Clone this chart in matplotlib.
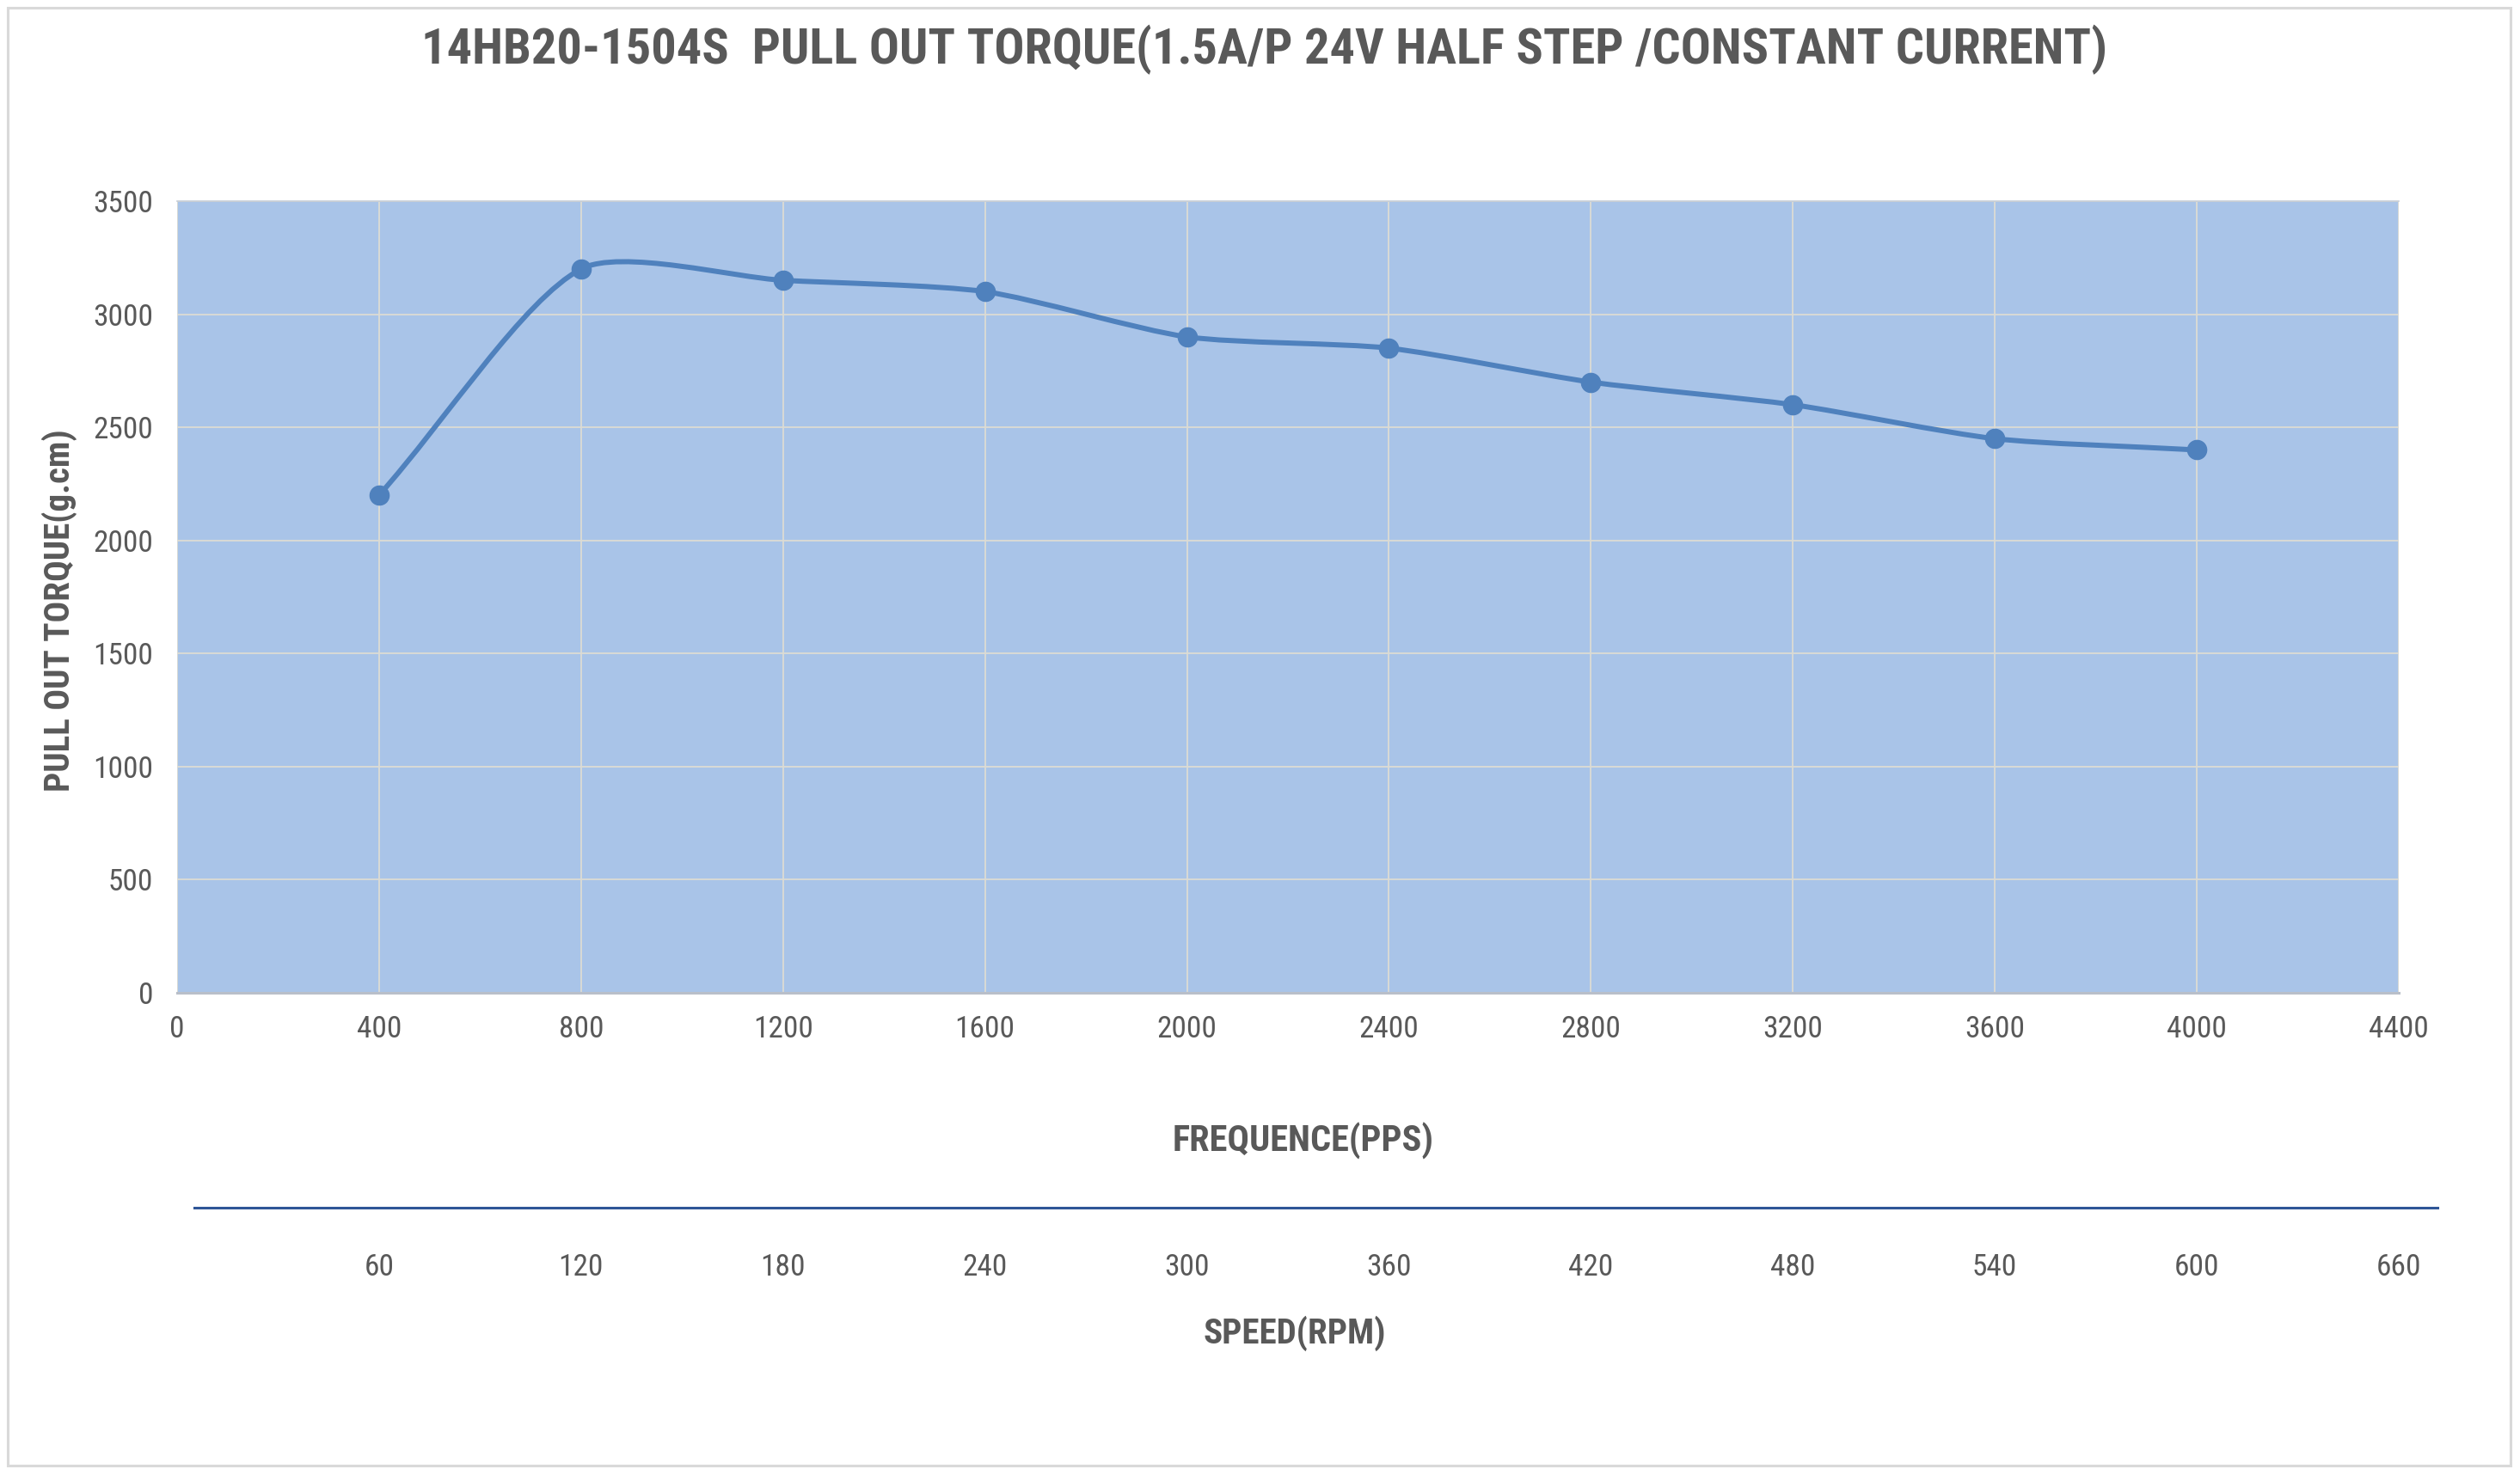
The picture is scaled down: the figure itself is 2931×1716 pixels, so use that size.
import numpy as np
import matplotlib
matplotlib.use("Agg")
import matplotlib.pyplot as plt
from matplotlib import font_manager as fm
from matplotlib.path import Path
from matplotlib.patches import PathPatch, Rectangle

# ---- data ----
freq_pps = [400, 800, 1200, 1600, 2000, 2400, 2800, 3200, 3600, 4000]
torque_gcm = [2200, 3200, 3150, 3100, 2900, 2850, 2700, 2600, 2450, 2400]
freq_ticks = [0, 400, 800, 1200, 1600, 2000, 2400, 2800, 3200, 3600, 4000, 4400]
torque_ticks = [0, 500, 1000, 1500, 2000, 2500, 3000, 3500]
speed_ticks = [60, 120, 180, 240, 300, 360, 420, 480, 540, 600, 660]
rpm_per_pps = 60 / 400  # half step, 400 steps per revolution

title = "14HB20-1504S  PULL OUT TORQUE(1.5A/P 24V HALF STEP /CONSTANT CURRENT)"
xlabel = "FREQUENCE(PPS)"
ylabel = "PULL OUT TORQUE(g.cm)"
speed_label = "SPEED(RPM)"

# ---- font: pick a narrow sans with bold available ----
prefs = ["Liberation Sans Narrow", "Arial Narrow", "Roboto Condensed", "PT Sans Narrow",
         "Archivo Narrow", "Liberation Sans"]
avail = {}
for f in fm.fontManager.ttflist:
    avail.setdefault(f.name, set()).add(f.weight if isinstance(f.weight, int) else 400)
chosen = "Liberation Sans"
for p in prefs:
    if p in avail and any(w >= 700 for w in avail[p]):
        chosen = p
        break
plt.rcParams['font.family'] = [chosen, 'Liberation Sans', 'DejaVu Sans']

# ---- styles ----
W, H = 2931, 1716
DPI = 100
text_color = "#595959"
plot_bg = "#A9C4E8"
line_color = "#4F81BD"
grid_color = "#DCDCD4"
smooth_tension = 0.72

fig = plt.figure(figsize=(W / DPI, H / DPI), dpi=DPI)
fig.patch.set_facecolor("white")

# figure border
fig.patches.append(Rectangle((9 / W, 1 - 1705 / H), (2920 - 9) / W, (1705 - 9) / H,
                             transform=fig.transFigure, fill=False,
                             edgecolor="#D9D9D9", linewidth=2.2))

ax_l, ax_r, ax_t, ax_b = 206 / W, 2790 / W, 234 / H, 1155 / H
ax = fig.add_axes([ax_l, 1 - ax_b, ax_r - ax_l, ax_b - ax_t])
ax.set_facecolor(plot_bg)
ax.set_xlim(freq_ticks[0], freq_ticks[-1])
ax.set_ylim(torque_ticks[0], torque_ticks[-1])
ax.set_xticks(freq_ticks)
ax.set_yticks(torque_ticks)
ax.grid(True, color=grid_color, linewidth=1.3)
ax.set_axisbelow(True)
for s in ["left", "right"]:
    ax.spines[s].set_visible(False)
ax.spines["bottom"].set_color("#B9BFC9")
ax.spines["bottom"].set_linewidth(2.2)
ax.spines["top"].set_color("#C5CCD6")
ax.spines["top"].set_linewidth(1.2)
ax.tick_params(axis="both", length=0, labelsize=25.5, labelcolor=text_color)
ax.tick_params(axis="x", pad=19)
ax.tick_params(axis="y", pad=20)

# smooth curve: cubic Bezier segments with chord-length-proportional tangents
# computed in screen space (similar to spreadsheet "smoothed line")
sx = (ax_r - ax_l) * W / (freq_ticks[-1] - freq_ticks[0])
sy = (ax_b - ax_t) * H / (torque_ticks[-1] - torque_ticks[0])
P = np.column_stack([np.array(freq_pps, float) * sx, np.array(torque_gcm, float) * sy])
n = len(P)
verts = [tuple(P[0])]
codes = [Path.MOVETO]
for i in range(n - 1):
    p0 = P[max(i - 1, 0)]
    p1 = P[i]
    p2 = P[i + 1]
    p3 = P[min(i + 2, n - 1)]
    d01 = np.linalg.norm(p1 - p0)
    d12 = np.linalg.norm(p2 - p1)
    d23 = np.linalg.norm(p3 - p2)
    if d01 > 0:
        c1 = p1 + (p2 - p0) * d12 / (d01 + d12) / 3.0 * smooth_tension
    else:
        c1 = p1 + (p2 - p1) / 3.0
    if d23 > 0:
        c2 = p2 - (p3 - p1) * d12 / (d12 + d23) / 3.0 * smooth_tension
    else:
        c2 = p2 - (p2 - p1) / 3.0
    verts += [tuple(c1), tuple(c2), tuple(p2)]
    codes += [Path.CURVE4] * 3
verts = [(vx / sx, vy / sy) for vx, vy in verts]
ax.add_patch(PathPatch(Path(verts, codes), facecolor="none", edgecolor=line_color,
                       linewidth=4.3, capstyle="round", joinstyle="round", zorder=3))
ax.plot(freq_pps, torque_gcm, linestyle="none", marker="o", markersize=16,
        color=line_color, zorder=4)

ax.set_xlabel(xlabel, fontsize=30.5, fontweight="bold", color=text_color)
ax.xaxis.set_label_coords(1516 / W, 1 - 1327 / H, transform=fig.transFigure)
ax.xaxis.label.set_va("center")
ax.set_ylabel(ylabel, fontsize=29.5, fontweight="bold", color=text_color)
ax.yaxis.set_label_coords(69 / W, 1 - 710 / H, transform=fig.transFigure)
ax.yaxis.label.set_va("center")

fig.suptitle(title, x=1471 / W, y=1 - 58 / H, va="center", fontsize=42,
             fontweight="bold", color=text_color)

# speed axis below
s_l, s_r, s_y = 226 / W, 2835 / W, 1405 / H
ax2 = fig.add_axes([s_l, 1 - s_y, s_r - s_l, 0.0001])
rpm_max_main = freq_ticks[-1] * rpm_per_pps
rpm_lo = (s_l - ax_l) / (ax_r - ax_l) * rpm_max_main
rpm_hi = (s_r - ax_l) / (ax_r - ax_l) * rpm_max_main
ax2.set_xlim(rpm_lo, rpm_hi)
ax2.set_facecolor("none")
ax2.set_yticks([])
ax2.set_xticks(speed_ticks)
for s in ["left", "right", "top"]:
    ax2.spines[s].set_visible(False)
ax2.spines["bottom"].set_color("#2F5597")
ax2.spines["bottom"].set_linewidth(2.2)
ax2.tick_params(axis="x", length=0, labelsize=25.5, labelcolor=text_color, pad=38)
ax2.set_xlabel(speed_label, fontsize=29.5, fontweight="bold", color=text_color)
ax2.xaxis.set_label_coords(1506 / W, 1 - 1551 / H, transform=fig.transFigure)
ax2.xaxis.label.set_va("center")

fig.savefig("out.png", dpi=DPI, facecolor="white")
